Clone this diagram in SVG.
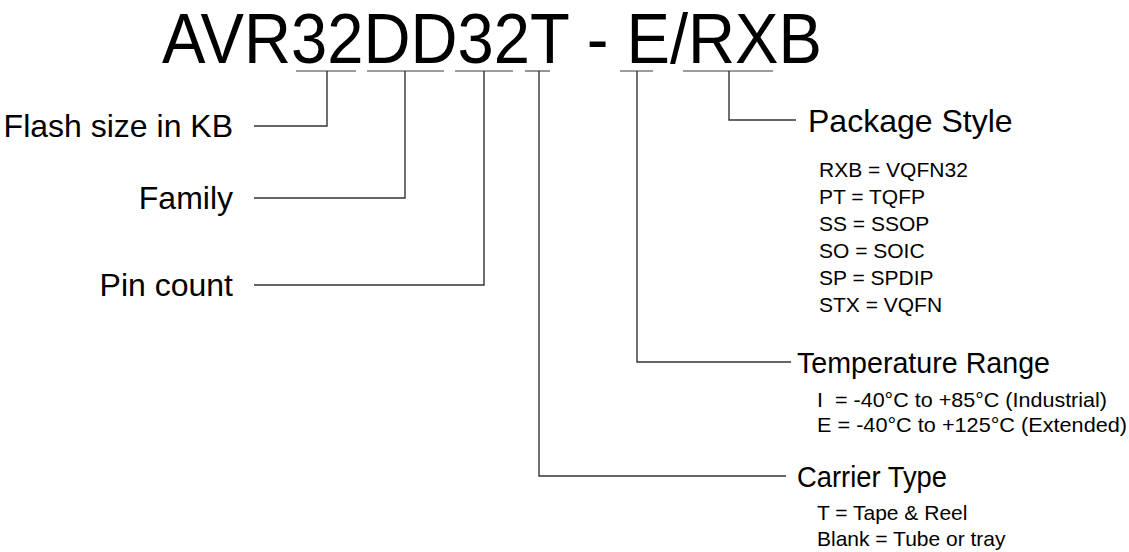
<svg xmlns="http://www.w3.org/2000/svg" width="1129" height="552" viewBox="0 0 1129 552">
<style>
text{font-family:"Liberation Sans",Arial,sans-serif;fill:#000}
.title{font-size:70px}
.lbl{font-size:32px}
.lbl2{font-size:30px}
.sm{font-size:21px}
.us{stroke:#7a7a7a;stroke-width:1.6;fill:none}
.cn{stroke:#333;stroke-width:1.4;fill:none}
</style>
<rect width="1129" height="552" fill="#fff"/>
<g id="title"><text class="title" x="162" y="63" textLength="660" lengthAdjust="spacingAndGlyphs">AVR32DD32T - E/RXB</text></g>
<g id="connectors">
<line class="us" x1="296" y1="71" x2="356" y2="71"/>
<line class="us" x1="367" y1="71" x2="444" y2="71"/>
<line class="us" x1="455" y1="71" x2="513" y2="71"/>
<line class="us" x1="525" y1="71" x2="550" y2="71"/>
<line class="us" x1="620" y1="71" x2="653" y2="71"/>
<line class="us" x1="683" y1="71" x2="773" y2="71"/>
<polyline class="cn" points="327,71 327,126 254,126"/>
<polyline class="cn" points="405,71 405,198 254,198"/>
<polyline class="cn" points="484,71 484,285 254,285"/>
<polyline class="cn" points="539,71 539,476 786,476"/>
<polyline class="cn" points="637,71 637,362 791,362"/>
<polyline class="cn" points="729,71 729,120 796,120"/>
</g>
<g id="flash"><text class="lbl" x="233" y="137" text-anchor="end">Flash size in KB</text></g>
<g id="family"><text class="lbl" x="233" y="209" text-anchor="end">Family</text></g>
<g id="pincount"><text class="lbl" x="233" y="296" text-anchor="end">Pin count</text></g>
<g id="package">
<text class="lbl" x="808" y="132">Package Style</text>
<text class="sm" x="819" y="177">RXB = VQFN32</text>
<text class="sm" x="819" y="204">PT = TQFP</text>
<text class="sm" x="819" y="231">SS = SSOP</text>
<text class="sm" x="819" y="258">SO = SOIC</text>
<text class="sm" x="819" y="285">SP = SPDIP</text>
<text class="sm" x="819" y="312">STX = VQFN</text>
</g>
<g id="temperature">
<text class="lbl2" x="797" y="373" textLength="253" lengthAdjust="spacingAndGlyphs">Temperature Range</text>
<text class="sm" x="817" y="407" xml:space="preserve" textLength="290" lengthAdjust="spacingAndGlyphs">I  = -40°C to +85°C (Industrial)</text>
<text class="sm" x="817" y="432" textLength="310" lengthAdjust="spacingAndGlyphs">E = -40°C to +125°C (Extended)</text>
</g>
<g id="carrier">
<text class="lbl2" x="797" y="487" textLength="150" lengthAdjust="spacingAndGlyphs">Carrier Type</text>
<text class="sm" x="817" y="520">T = Tape &amp; Reel</text>
<text class="sm" x="817" y="546">Blank = Tube or tray</text>
</g>
</svg>
